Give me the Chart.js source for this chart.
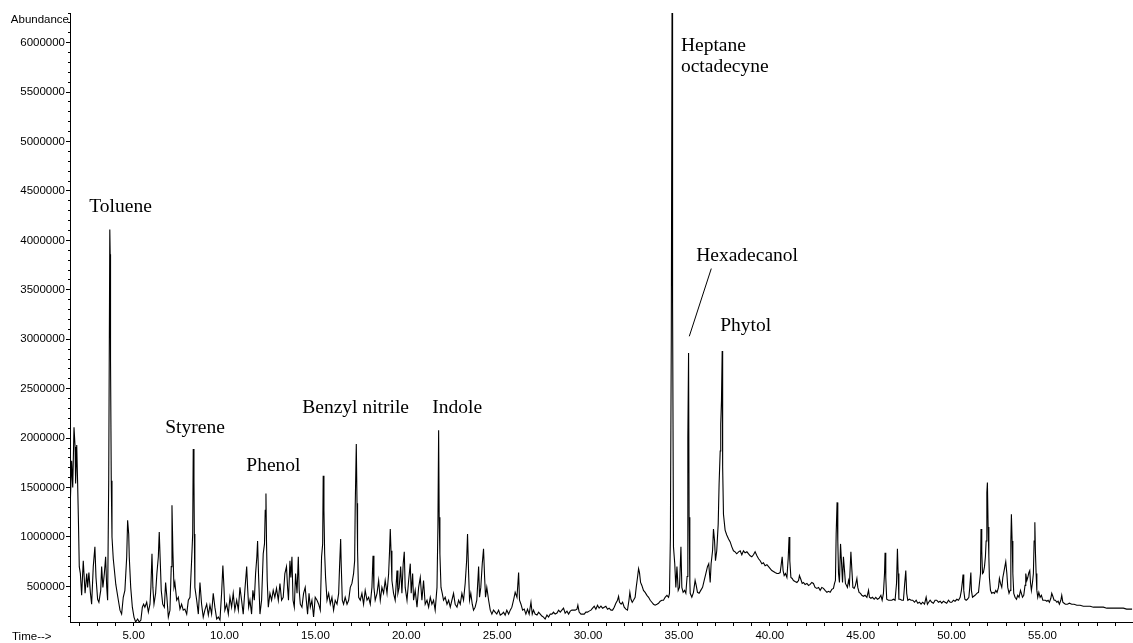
<!DOCTYPE html>
<html>
<head>
<meta charset="utf-8">
<script src="https://cdn.jsdelivr.net/npm/chart.js@4.4.1/dist/chart.umd.min.js"></script>
<style>
  html, body { margin: 0; padding: 0; background: #fff; }
  canvas { display: block; }
</style>
</head>
<body>
<canvas id="tic" width="1133" height="643"></canvas>
<script>
// total ion chromatogram as [time (min), abundance]
const scanA = [
  [1.52,1370000],[1.59,1770000],[1.65,1500000],[1.72,2110000],[1.78,1910000],[1.81,1540000],[1.87,1930000],
  [1.92,1540000],[1.96,1200000],[2.01,700000],[2.07,630000],[2.14,410000],[2.23,760000],[2.33,430000],
  [2.42,630000],[2.47,490000],[2.54,640000],[2.62,440000],[2.69,320000],[2.78,700000],[2.87,900000],
  [2.93,590000],[3.02,370000],[3.09,340000],[3.19,460000],[3.24,700000],[3.31,490000],[3.39,630000],
  [3.46,800000],[3.52,490000],[3.57,360000],[3.63,1570000],[3.69,4110000],[3.71,3860000],[3.73,2780000],
  [3.77,1570000],[3.81,1000000],[3.88,780000],[4.02,520000],[4.16,360000],[4.25,260000],[4.34,220000],
  [4.43,390000],[4.52,460000],[4.62,800000],[4.67,1170000],[4.73,1030000],[4.76,800000],[4.84,490000],
  [4.93,290000],[5.02,190000],[5.11,140000],[5.22,170000],[5.31,140000],[5.40,160000],[5.48,290000],
  [5.55,320000],[5.62,290000],[5.72,340000],[5.81,240000],[5.90,320000],[5.95,490000],[6.01,830000],
  [6.06,490000],[6.12,320000],[6.21,430000],[6.28,630000],[6.36,800000],[6.41,1050000],[6.47,730000],
  [6.52,460000],[6.60,320000],[6.69,290000],[6.76,540000],[6.83,390000],[6.91,190000],[7.00,260000],
  [7.07,700000],[7.11,1320000],[7.16,860000],[7.22,490000],[7.27,540000],[7.37,360000],[7.46,390000],
  [7.55,270000],[7.64,320000],[7.73,260000],[7.82,270000],[7.92,220000],[8.01,360000],[8.10,390000],
  [8.19,760000],[8.25,1030000],[8.28,1890000],[8.32,1570000],[8.34,1030000],[8.37,490000],[8.47,360000],
  [8.56,220000],[8.65,540000],[8.74,320000],[8.83,190000],[8.92,260000],[9.02,320000],[9.11,210000],
  [9.20,310000],[9.29,220000],[9.38,430000],[9.47,290000],[9.57,170000],[9.66,190000],[9.75,160000],
  [9.84,430000],[9.91,710000],[9.97,490000],[10.02,260000],[10.12,320000],[10.21,220000],[10.30,390000],
  [10.39,290000],[10.48,430000],[10.57,260000],[10.67,360000],[10.76,260000],[10.85,490000],[10.94,360000],
  [11.03,220000],[11.12,460000],[11.22,700000],[11.27,490000],[11.33,290000],[11.40,360000],[11.49,220000],
  [11.56,460000],[11.64,360000],[11.71,630000],[11.78,800000],[11.82,960000],[11.87,630000],[11.95,220000],
  [12.04,360000],[12.13,830000],[12.20,930000],[12.24,1270000],[12.28,1440000],[12.31,960000],[12.35,560000],
  [12.41,290000],[12.50,430000],[12.59,360000],[12.68,460000],[12.77,390000],[12.86,480000],[12.96,360000],
  [13.05,530000],[13.14,360000],[13.23,390000],[13.32,630000],[13.41,700000],[13.47,490000],[13.52,360000],
  [13.60,760000],[13.65,590000]
];
const scanB = [
  [13.71,800000],[13.77,360000],[13.84,290000],[13.91,630000],[13.99,430000],[14.06,800000],[14.11,460000],
  [14.17,320000],[14.26,290000],[14.35,430000],[14.44,490000],[14.50,360000],[14.57,220000],[14.65,430000],
  [14.72,290000],[14.81,360000],[14.90,190000],[14.99,390000],[15.09,360000],[15.18,320000],[15.27,260000],
  [15.34,800000],[15.40,930000],[15.43,1620000],[15.47,1270000],[15.51,830000],[15.56,590000],[15.64,360000],
  [15.73,430000],[15.82,320000],[15.91,390000],[16.00,260000],[16.09,360000],[16.19,320000],[16.28,430000],
  [16.33,700000],[16.39,980000],[16.42,730000],[16.48,360000],[16.55,320000],[16.64,390000],[16.74,320000],
  [16.83,360000],[16.92,490000],[17.01,530000],[17.10,630000],[17.16,760000],[17.19,1300000],[17.25,1940000],
  [17.29,1340000],[17.32,860000],[17.38,390000],[17.47,360000],[17.56,430000],[17.65,320000],[17.74,460000],
  [17.84,360000],[17.93,390000],[18.02,320000],[18.11,490000],[18.17,810000],[18.22,490000],[18.29,360000],
  [18.39,430000],[18.48,560000],[18.57,360000],[18.66,490000],[18.75,430000],[18.84,560000],[18.94,430000],
  [19.03,630000],[19.08,860000],[19.12,1080000],[19.16,860000],[19.21,560000],[19.30,430000],[19.39,360000],
  [19.49,660000],[19.54,430000],[19.61,490000],[19.69,700000],[19.76,430000],[19.83,730000],[19.89,850000],
  [19.94,490000],[20.04,360000],[20.13,560000],[20.22,730000],[20.27,430000],[20.35,630000],[20.40,360000],
  [20.49,460000],[20.59,290000],[20.68,490000],[20.77,590000],[20.86,360000],[20.95,560000],[21.04,320000],
  [21.14,360000],[21.23,290000],[21.32,390000],[21.41,320000],[21.50,360000],[21.59,260000],[21.69,490000],
  [21.74,1100000],[21.78,2080000],[21.81,1200000],[21.85,830000],[21.91,490000],[21.98,430000],[22.05,360000],
  [22.14,390000],[22.24,320000],[22.33,360000],[22.42,290000],[22.51,360000],[22.60,430000],[22.69,320000],
  [22.79,290000],[22.88,360000],[22.97,320000],[23.06,430000],[23.15,360000],[23.24,530000],[23.32,760000],
  [23.37,1030000],[23.43,630000],[23.48,360000],[23.55,430000],[23.63,320000],[23.70,260000],[23.79,290000],
  [23.88,360000],[23.98,700000],[24.03,390000],[24.10,490000],[24.18,730000],[24.25,880000],[24.31,590000],
  [24.36,390000],[24.43,490000],[24.53,360000],[24.62,260000],[24.71,220000],[24.80,260000],[24.89,240000],
  [24.98,220000],[25.08,260000],[25.17,210000],[25.26,220000],[25.35,240000],[25.44,210000],[25.53,260000],
  [25.63,220000],[25.72,260000],[25.81,290000]
];
const scanC = [
  [25.90,360000],[25.99,440000],[26.09,390000],[26.18,640000],[26.23,360000],[26.31,320000],[26.40,260000],
  [26.49,270000],[26.58,220000],[26.67,270000],[26.76,220000],[26.86,340000],[26.93,220000],[27.00,260000],
  [27.09,220000],[27.19,210000],[27.28,240000],[27.37,220000],[27.46,200000],[27.55,190000],[27.64,170000],
  [27.74,210000],[27.83,190000],[27.92,220000],[28.01,220000],[28.10,240000],[28.19,220000],[28.29,230000],
  [28.38,260000],[28.47,240000],[28.56,260000],[28.65,280000],[28.74,230000],[28.84,250000],[28.93,220000],
  [29.02,250000],[29.11,260000],[29.20,260000],[29.29,260000],[29.39,270000],[29.44,310000],[29.51,240000],
  [29.61,220000],[29.70,220000],[29.79,220000],[29.88,240000],[29.97,240000],[30.06,250000],[30.16,260000],
  [30.25,280000],[30.34,300000],[30.43,270000],[30.52,310000],[30.61,280000],[30.71,300000],[30.80,280000],
  [30.89,290000],[30.98,300000],[31.07,270000],[31.16,280000],[31.26,260000],[31.35,260000],[31.44,290000],
  [31.53,330000],[31.62,360000],[31.68,400000],[31.73,340000],[31.82,320000],[31.90,340000],[31.99,290000],
  [32.08,270000],[32.17,260000],[32.25,360000],[32.30,440000],[32.36,370000],[32.43,340000],[32.50,360000],
  [32.59,390000],[32.65,490000],[32.72,590000],[32.78,680000],[32.83,640000],[32.89,540000],[32.96,510000],
  [33.05,460000],[33.14,440000],[33.24,410000],[33.33,390000],[33.42,360000],[33.51,340000],[33.60,320000],
  [33.69,310000],[33.79,320000],[33.88,330000],[33.97,350000],[34.06,360000],[34.15,360000],[34.24,390000],
  [34.34,410000],[34.43,390000],[34.48,430000],[34.53,1000000],[34.58,3040000],[34.62,6300000],[34.65,3370000],
  [34.70,900000],[34.77,730000],[34.83,490000],[34.89,700000],[34.96,460000],[35.03,490000],[35.11,900000],
  [35.16,490000],[35.23,440000],[35.31,460000],[35.38,430000],[35.45,600000],[35.49,2000000],[35.53,2860000],
  [35.56,1200000],[35.60,550000],[35.62,430000],[35.71,390000],[35.80,440000],[35.89,560000],[35.95,510000],
  [36.02,440000],[36.11,430000],[36.20,460000],[36.30,490000],[36.39,560000],[36.48,630000],[36.57,700000],
  [36.64,730000],[36.72,540000],[36.77,730000],[36.85,860000],[36.90,1080000],[36.96,960000],[37.01,760000],
  [37.08,860000],[37.16,1130000],[37.21,1540000],[37.27,1870000],[37.30,2140000],[37.34,2380000],[37.38,2880000],
  [37.40,2280000],[37.41,1710000],[37.45,1230000],[37.54,1070000],[37.63,1020000],[37.73,980000],[37.82,950000],
  [37.91,900000],[38.00,860000],[38.09,850000],[38.18,830000],[38.28,850000]
];
const scanD = [
  [38.37,860000],[38.46,820000],[38.55,860000],[38.64,840000],[38.74,850000],[38.83,830000],[38.92,810000],
  [39.01,800000],[39.10,820000],[39.19,850000],[39.29,810000],[39.38,780000],[39.47,760000],[39.56,730000],
  [39.65,740000],[39.74,710000],[39.84,720000],[39.93,700000],[40.02,680000],[40.11,660000],[40.20,650000],
  [40.29,640000],[40.39,630000],[40.48,630000],[40.57,640000],[40.62,710000],[40.68,800000],[40.73,660000],
  [40.79,610000],[40.86,630000],[40.94,590000],[41.01,780000],[41.06,1000000],[41.10,760000],[41.16,590000],
  [41.23,580000],[41.30,560000],[41.39,550000],[41.49,540000],[41.58,560000],[41.63,610000],[41.71,570000],
  [41.78,530000],[41.85,540000],[41.94,520000],[42.04,530000],[42.13,510000],[42.22,520000],[42.31,540000],
  [42.40,530000],[42.49,490000],[42.59,480000],[42.68,490000],[42.77,460000],[42.86,490000],[42.95,480000],
  [43.04,460000],[43.14,440000],[43.23,450000],[43.32,440000],[43.41,470000],[43.50,480000],[43.56,530000],
  [43.61,560000],[43.65,1030000],[43.70,1350000],[43.74,960000],[43.78,630000],[43.83,540000],[43.89,930000],
  [43.94,760000],[44.00,540000],[44.05,800000],[44.11,660000],[44.16,530000],[44.22,510000],[44.27,490000],
  [44.33,560000],[44.38,520000],[44.46,850000],[44.51,680000],[44.57,490000],[44.64,480000],[44.71,510000],
  [44.79,580000],[44.84,490000],[44.91,440000],[44.99,430000],[45.06,410000],[45.15,400000],[45.24,410000],
  [45.34,390000],[45.43,460000],[45.48,390000],[45.56,380000],[45.65,390000],[45.74,370000],[45.83,390000],
  [45.92,370000],[46.01,380000],[46.11,410000],[46.18,360000],[46.25,430000],[46.31,630000],[46.34,840000],
  [46.38,590000],[46.43,370000],[46.53,360000],[46.62,360000],[46.71,360000],[46.80,370000],[46.89,360000],
  [46.97,530000],[47.02,880000],[47.06,630000],[47.10,370000],[47.17,370000],[47.26,360000],[47.35,360000],
  [47.42,530000],[47.48,660000],[47.53,430000],[47.59,360000],[47.68,370000],[47.77,360000],[47.86,360000],
  [47.96,340000],[48.05,360000],[48.14,330000],[48.23,340000],[48.32,320000],[48.41,340000],[48.51,320000],
  [48.60,390000],[48.67,320000],[48.74,340000],[48.82,360000],[48.91,340000],[49.00,330000],[49.09,360000],
  [49.18,360000],[49.28,340000],[49.37,350000],[49.46,330000],[49.55,350000],[49.64,340000],[49.73,330000],
  [49.83,360000],[49.92,340000]
];
const scanE = [
  [50.01,340000],[50.10,360000],[50.19,350000],[50.29,370000],[50.38,360000],[50.47,390000],[50.54,460000],
  [50.60,560000],[50.63,620000],[50.67,460000],[50.73,370000],[50.80,360000],[50.87,370000],[50.95,390000],
  [51.00,490000],[51.06,640000],[51.09,460000],[51.15,390000],[51.22,400000],[51.29,410000],[51.39,430000],
  [51.48,440000],[51.53,530000],[51.59,630000],[51.62,1080000],[51.66,860000],[51.70,630000],[51.75,640000],
  [51.81,700000],[51.86,800000],[51.90,960000],[51.94,1450000],[51.97,1550000],[52.01,1100000],[52.05,800000],
  [52.08,590000],[52.14,460000],[52.21,430000],[52.28,440000],[52.36,430000],[52.43,460000],[52.50,440000],
  [52.58,490000],[52.63,580000],[52.69,530000],[52.76,490000],[52.82,590000],[52.87,640000],[52.93,700000],
  [52.98,750000],[53.04,630000],[53.09,490000],[53.16,430000],[53.22,460000],[53.26,960000],[53.29,1230000],
  [53.33,960000],[53.37,630000],[53.42,430000],[53.49,390000],[53.57,370000],[53.64,410000],[53.71,390000],
  [53.79,460000],[53.84,430000],[53.90,390000],[53.97,410000],[54.04,510000],[54.08,630000],[54.14,560000],
  [54.19,590000],[54.25,640000],[54.30,660000],[54.34,540000],[54.39,460000],[54.45,540000],[54.50,630000],
  [54.54,960000],[54.58,1150000],[54.61,860000],[54.65,630000],[54.69,460000],[54.74,390000],[54.80,440000],
  [54.87,390000],[54.94,410000],[55.02,360000],[55.09,360000],[55.16,360000],[55.24,350000],[55.31,360000],
  [55.38,340000],[55.46,380000],[55.51,430000],[55.57,400000],[55.64,360000],[55.71,360000],[55.79,340000],
  [55.86,350000],[55.93,320000],[56.01,360000],[56.06,410000],[56.12,340000],[56.19,330000],[56.26,320000],
  [56.37,320000],[56.48,330000],[56.61,320000],[56.74,320000],[56.89,310000],[57.07,310000],[57.25,300000],
  [57.44,300000],[57.62,300000],[57.80,290000],[57.99,290000],[58.17,290000],[58.35,290000],[58.54,280000],
  [58.72,280000],[58.90,280000],[59.09,280000],[59.27,280000],[59.45,280000],[59.63,270000],[59.82,270000],
  [59.93,270000]
];

// peak names and where each label's baseline sits (time, abundance)
const peakNames = ['Toluene', 'Styrene', 'Phenol', 'Benzyl nitrile', 'Indole', 'Heptane', 'octadecyne', 'Hexadecanol', 'Phytol'];
const labelTimes = [2.56, 6.74, 11.20, 14.28, 21.43, 35.11, 35.11, 35.95, 37.27];
const labelLevels = [4290000, 2047000, 1663000, 2259000, 2249000, 5919000, 5707000, 3796000, 3088000];
// leader from the Hexadecanol label to its peak
const leaderTimes = [36.78, 35.57];
const leaderLevels = [3715000, 3030000];

// axis ticks: every minute on time, every 100000 on abundance; labels on the big steps
const timeTicks = [];
for (let t = 2; t <= 59; t++) timeTicks.push(t);
const abundanceTicks = [];
for (let a = 2; a <= 63; a++) abundanceTicks.push(a * 100000);
const timeLabelStep = 5;
const abundanceLabelStep = 500000;

const axisFont = { family: '"Liberation Sans", Arial, sans-serif', size: 11.5 };

const points = [...scanA, ...scanB, ...scanC, ...scanD, ...scanE].map(p => ({ x: p[0], y: p[1] }));

const isMajor = (v, step) => Math.round(v) % step === 0;

// draws peak names, the leader line and the two axis captions
const peakText = {
  id: 'peakText',
  afterDraw(chart) {
    const { ctx, chartArea } = chart;
    const xs = chart.scales.x;
    const ys = chart.scales.y;
    ctx.save();
    ctx.fillStyle = '#000';
    ctx.textBaseline = 'alphabetic';
    ctx.font = '19.5px "Liberation Serif", "Times New Roman", serif';
    peakNames.forEach((name, i) => {
      ctx.fillText(name, xs.getPixelForValue(labelTimes[i]), ys.getPixelForValue(labelLevels[i]));
    });

    ctx.beginPath();
    ctx.moveTo(xs.getPixelForValue(leaderTimes[0]), ys.getPixelForValue(leaderLevels[0]));
    ctx.lineTo(xs.getPixelForValue(leaderTimes[1]), ys.getPixelForValue(leaderLevels[1]));
    ctx.strokeStyle = '#000';
    ctx.lineWidth = 1;
    ctx.stroke();

    ctx.font = '11.5px "Liberation Sans", Arial, sans-serif';
    ctx.textAlign = 'right';
    ctx.fillText('Abundance', chartArea.left - 1, 23);
    ctx.textAlign = 'left';
    ctx.fillText('Time-->', 12, 640);
    ctx.restore();
  }
};

new Chart(document.getElementById('tic').getContext('2d'), {
  type: 'line',
  data: {
    datasets: [{
      data: points,
      borderColor: '#000',
      borderWidth: 1.1,
      pointRadius: 0,
      tension: 0,
      fill: false
    }]
  },
  options: {
    responsive: false,
    animation: false,
    layout: { padding: { top: 13, right: 0, left: 0, bottom: 0 } },
    plugins: {
      legend: { display: false },
      tooltip: { enabled: false }
    },
    scales: {
      x: {
        type: 'linear',
        min: 1.5,
        max: 59.98,
        afterBuildTicks: scale => { scale.ticks = timeTicks.map(v => ({ value: v })); },
        afterFit: scale => { scale.height = 21; },
        border: { display: true, color: '#000', width: 1 },
        grid: { drawOnChartArea: false, tickLength: 4, tickColor: '#000' },
        ticks: {
          autoSkip: false,
          maxRotation: 0,
          minRotation: 0,
          padding: 3,
          color: '#000',
          font: axisFont,
          callback: v => (isMajor(v, timeLabelStep) ? Number(v).toFixed(2) : '')
        }
      },
      y: {
        min: 140000,
        max: 6300000,
        afterBuildTicks: scale => { scale.ticks = abundanceTicks.map(v => ({ value: v })); },
        afterFit: scale => { scale.width = 70; },
        border: { display: true, color: '#000', width: 1 },
        grid: {
          drawOnChartArea: false,
          tickLength: 4,
          tickColor: '#000',
          // minor ticks show only their inner half
          tickBorderDash: c => (c.tick && !isMajor(c.tick.value, abundanceLabelStep) ? [2, 2] : []),
          tickBorderDashOffset: 2
        },
        ticks: {
          autoSkip: false,
          padding: 1,
          color: '#000',
          font: axisFont,
          callback: v => (isMajor(v, abundanceLabelStep) ? String(Math.round(v)) : '')
        }
      }
    }
  },
  plugins: [peakText]
});
</script>
</body>
</html>
